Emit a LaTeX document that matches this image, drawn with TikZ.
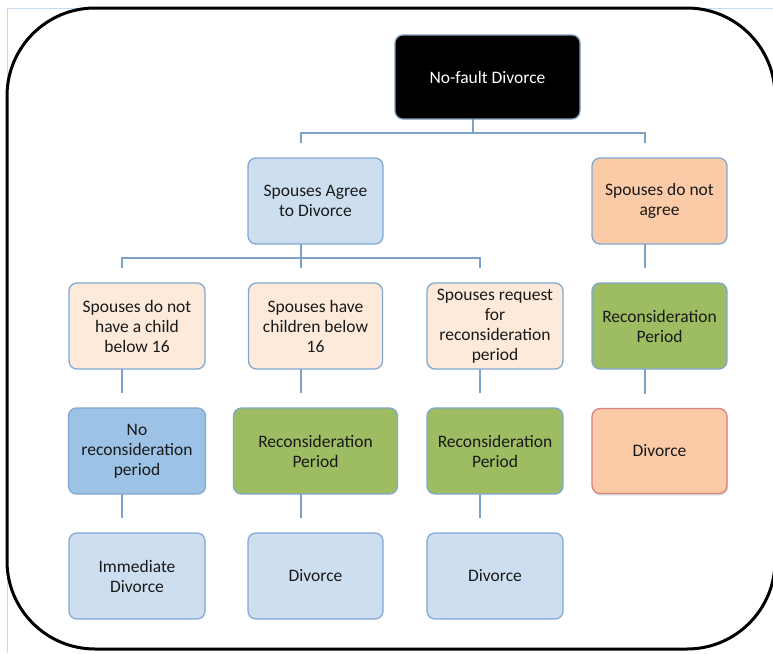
\documentclass[tikz,border=0pt]{standalone}
\usepackage{fontspec}
\setmainfont{Carlito}
\usetikzlibrary{shadows,backgrounds}
\definecolor{lbfill}{HTML}{CEDEF1}
\definecolor{lbdraw}{HTML}{80A8D2}
\definecolor{mbfill}{HTML}{9CC2E5}
\definecolor{peach}{HTML}{FBCBA7}
\definecolor{vlpeach}{HTML}{FDEADB}
\definecolor{grn}{HTML}{9EBD62}
\definecolor{reddraw}{HTML}{D98080}
\definecolor{connc}{HTML}{7DA2C8}
\definecolor{pageline}{HTML}{C5DBF2}
\tikzset{
  box/.style={draw=lbdraw, line width=1.3pt, rounded corners=8pt, align=center,
    inner sep=2pt, font=\fontsize{17.5}{20}\selectfont, text=black!90},
  conn/.style={draw=connc, line width=2pt},
  cshift/.style={xshift=-15pt, yshift=14pt}
}
\begin{document}
\begin{tikzpicture}[x=1pt, y=-1pt]
\useasboundingbox (0,0) rectangle (773,653);
% page frame
\draw[pageline, line width=1pt] (7,653) -- (7,8) -- (773,8);
% rounded black frame
\draw[black, line width=3pt, rounded corners=88pt] (7,8) rectangle (775,649);

% nodes
\node[box, fill=black, draw=lbdraw!70!gray, text=white, minimum width=185pt, minimum height=84pt] (root) at (487.5,77) {No-fault Divorce};
\node[box, fill=lbfill, minimum width=135pt, minimum height=86pt] (agree) at (315.5,201) {Spouses Agree\\to Divorce};
\node[box, fill=peach, minimum width=135pt, minimum height=86pt] (notagree) at (659.5,201) {Spouses do not\\agree};

\node[box, fill=vlpeach, minimum width=136pt, minimum height=86pt] (c1) at (137,326) {Spouses do not\\have a child\\below 16};
\node[box, fill=vlpeach, minimum width=134pt, minimum height=86pt] (c2) at (315.5,326) {Spouses have\\children below\\16};
\node[box, fill=vlpeach, minimum width=136pt, minimum height=86pt] (c3) at (495,326) {Spouses request\\for\\reconsideration\\period};
\node[box, fill=grn, minimum width=135pt, minimum height=86pt] (r2) at (659.5,326) {Reconsideration\\Period};

\node[box, fill=mbfill, minimum width=137pt, minimum height=86pt] (d1) at (137,451) {No\\reconsideration\\period};
\node[box, fill=grn, minimum width=164pt, minimum height=86pt] (d2) at (315.5,451) {Reconsideration\\Period};
\node[box, fill=grn, minimum width=136pt, minimum height=86pt] (d3) at (495,451) {Reconsideration\\Period};
\node[box, fill=peach, draw=reddraw, minimum width=135pt, minimum height=85pt,
  drop shadow={opacity=0.25, shadow xshift=1pt, shadow yshift=-2pt}] (r3) at (659.5,451) {Divorce};

\node[box, fill=lbfill, minimum width=136pt, minimum height=86pt] (e1) at (137,576) {Immediate\\Divorce};
\node[box, fill=lbfill, minimum width=135pt, minimum height=86pt] (e2) at (315.5,576) {Divorce};
\node[box, fill=lbfill, minimum width=136pt, minimum height=86pt] (e3) at (495,576) {Divorce};

% connectors (offset as in the reference), behind the boxes
\begin{scope}[on background layer]
\draw[conn] ([cshift]root.south) -- ++(0pt,-27pt) -| ([cshift]agree.north);
\draw[conn] ([cshift]root.south) -- ++(0pt,-27pt) -| ([cshift]notagree.north);

\draw[conn] ([cshift]agree.south) -- ++(0pt,-27pt) -| ([cshift]c1.north);
\draw[conn] ([cshift]agree.south) -- ++(0pt,-27pt) -| ([cshift]c2.north);
\draw[conn] ([cshift]agree.south) -- ++(0pt,-27pt) -| ([cshift]c3.north);

\draw[conn] ([cshift]notagree.south) -- ([cshift]r2.north);
\draw[conn] ([cshift]r2.south) -- ([cshift]r3.north);

\draw[conn] ([cshift]c1.south) -- ([cshift]d1.north);
\draw[conn] ([cshift]c2.south) -- ([cshift]d2.north);
\draw[conn] ([cshift]c3.south) -- ([cshift]d3.north);

\draw[conn] ([cshift]d1.south) -- ([cshift]e1.north);
\draw[conn] ([cshift]d2.south) -- ([cshift]e2.north);
\draw[conn] ([cshift]d3.south) -- ([cshift]e3.north);
\end{scope}
\end{tikzpicture}
\end{document}
